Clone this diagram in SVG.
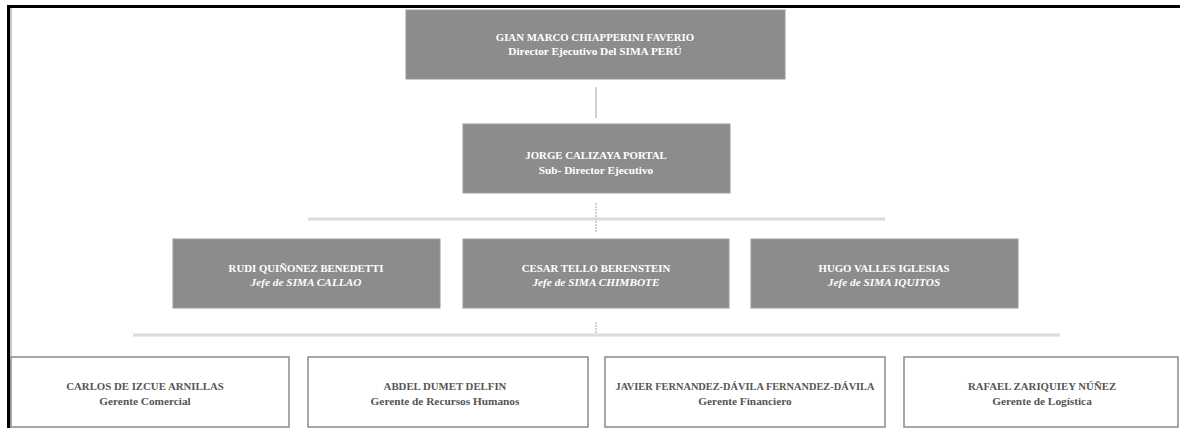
<svg xmlns="http://www.w3.org/2000/svg" width="1180" height="428" viewBox="0 0 1180 428">
<style>
.dark rect{fill:#8c8c8c;stroke:#9a9a9a;stroke-width:1}
.light rect{fill:#ffffff;stroke:#8a8a8a;stroke-width:1.5}
text{font-family:"Liberation Serif","Times New Roman",serif;font-weight:bold;text-anchor:middle}
.dark text{fill:#ffffff}
.light text{fill:#555555}
.n{font-size:10.8px}
.s{font-size:11.3px}
.i{font-style:italic}
.bar{stroke:#dcdcdc;stroke-width:3;fill:none}
.vc{stroke:#d2d2d2;stroke-width:2;fill:none}
</style>
<rect x="0" y="0" width="1180" height="428" fill="#ffffff"/>
<g id="frame">
<line x1="7" y1="6.5" x2="1180" y2="6.5" stroke="#000" stroke-width="3"/>
<line x1="8.5" y1="5" x2="8.5" y2="428" stroke="#000" stroke-width="3"/>
<line x1="11" y1="8" x2="11" y2="428" stroke="#c8c8c8" stroke-width="2"/>
</g>
<g id="connectors">
<line class="vc" x1="596" y1="87" x2="596" y2="118"/>
<line class="bar" x1="308" y1="219" x2="885" y2="219"/>
<line class="vc" x1="596" y1="203" x2="596" y2="232" stroke-dasharray="2 1"/>
<line class="bar" x1="133" y1="335" x2="1060" y2="335"/>
<line class="vc" x1="596" y1="322" x2="596" y2="334" stroke-dasharray="2 1"/>
</g>
<g id="n1" class="dark">
<rect x="406" y="10" width="379" height="69"/>
<text class="n" x="595" y="41">GIAN MARCO CHIAPPERINI FAVERIO</text>
<text class="s" x="595" y="55">Director Ejecutivo Del SIMA PERÚ</text>
</g>
<g id="n2" class="dark">
<rect x="463" y="124" width="267" height="69"/>
<text class="n" x="596" y="159">JORGE CALIZAYA PORTAL</text>
<text class="s" x="596" y="174">Sub- Director Ejecutivo</text>
</g>
<g id="n3" class="dark">
<rect x="173" y="239" width="267" height="69"/>
<text class="n" x="306" y="272">RUDI QUIÑONEZ BENEDETTI</text>
<text class="s i" x="306" y="286">Jefe de SIMA CALLAO</text>
</g>
<g id="n4" class="dark">
<rect x="463" y="239" width="266" height="69"/>
<text class="n" x="596" y="272">CESAR TELLO BERENSTEIN</text>
<text class="s i" x="596" y="286">Jefe de SIMA CHIMBOTE</text>
</g>
<g id="n5" class="dark">
<rect x="751" y="239" width="267" height="69"/>
<text class="n" x="884" y="272">HUGO VALLES IGLESIAS</text>
<text class="s i" x="884" y="286">Jefe de SIMA IQUITOS</text>
</g>
<g id="n6" class="light">
<rect x="11" y="357" width="278" height="70"/>
<text class="n" x="145" y="390">CARLOS DE IZCUE ARNILLAS</text>
<text class="s" x="145" y="405">Gerente Comercial</text>
</g>
<g id="n7" class="light">
<rect x="308" y="357" width="280" height="70"/>
<text class="n" x="445" y="390">ABDEL DUMET DELFIN</text>
<text class="s" x="445" y="405">Gerente de Recursos Humanos</text>
</g>
<g id="n8" class="light">
<rect x="605" y="357" width="280" height="70"/>
<text class="n" x="745" y="390" textLength="259" lengthAdjust="spacingAndGlyphs">JAVIER FERNANDEZ-DÁVILA FERNANDEZ-DÁVILA</text>
<text class="s" x="745" y="405">Gerente Financiero</text>
</g>
<g id="n9" class="light">
<rect x="904" y="357" width="274" height="70"/>
<text class="n" x="1042" y="390">RAFAEL ZARIQUIEY NÚÑEZ</text>
<text class="s" x="1042" y="405">Gerente de Logística</text>
</g>
</svg>
